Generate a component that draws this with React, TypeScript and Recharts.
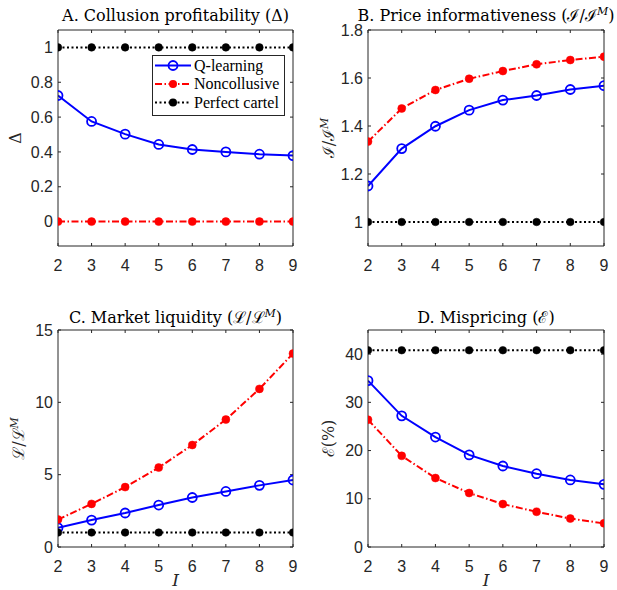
import React from 'react';
import { LineChart, Line, XAxis, YAxis, Legend } from 'recharts';

// ---------- data ----------
const categories = [2, 3, 4, 5, 6, 7, 8, 9];

const qLearningA = [0.724, 0.575, 0.502, 0.443, 0.414, 0.4, 0.387, 0.379];
const noncollusiveA = [0, 0, 0, 0, 0, 0, 0, 0];
const perfectCartelA = [1, 1, 1, 1, 1, 1, 1, 1];

const qLearningB = [1.15, 1.306, 1.399, 1.466, 1.508, 1.527, 1.552, 1.568];
const noncollusiveB = [1.335, 1.473, 1.55, 1.597, 1.629, 1.657, 1.675, 1.689];
const perfectCartelB = [1, 1, 1, 1, 1, 1, 1, 1];

const qLearningC = [1.33, 1.86, 2.35, 2.9, 3.42, 3.84, 4.26, 4.63];
const noncollusiveC = [1.9, 2.98, 4.14, 5.49, 7.05, 8.81, 10.93, 13.37];
const perfectCartelC = [1, 1, 1, 1, 1, 1, 1, 1];

const qLearningD = [34.5, 27.2, 22.8, 19.1, 16.8, 15.2, 13.9, 13.0];
const noncollusiveD = [26.4, 18.9, 14.3, 11.2, 8.9, 7.3, 5.9, 4.9];
const perfectCartelD = [40.8, 40.8, 40.8, 40.8, 40.8, 40.8, 40.8, 40.8];

const ticksA = [0, 0.2, 0.4, 0.6, 0.8, 1];
const ticksB = [1, 1.2, 1.4, 1.6, 1.8];
const ticksC = [0, 5, 10, 15];
const ticksD = [0, 10, 20, 30, 40];

const seriesNames = ['Q-learning', 'Noncollusive', 'Perfect cartel'];

function buildRows(q: number[], n: number[], p: number[]) {
  return categories.map((I, i) => ({ I, q: q[i], n: n[i], p: p[i] }));
}

// ---------- styles ----------
const AXIS = '#262626';
const BLUE = '#0000FF';
const RED = '#FF0000';
const BLACK = '#000000';
const SERIF = "'DejaVu Serif', 'Liberation Serif', 'Times New Roman', serif";
const LEG_SERIF = "'Liberation Serif', 'Times New Roman', 'DejaVu Serif', serif";
const SANS = "'Liberation Sans', Arial, Helvetica, sans-serif";
const tickStyle = { fill: AXIS, fontSize: 16, style: { fontFamily: SANS } };
const DASHDOT = '7 2.5 1.5 2.5';
const DOTTED = '2 2.5';

function LegendBox() {
  const rows = [
    { name: seriesNames[0], color: BLUE, dash: undefined as string | undefined, open: true },
    { name: seriesNames[1], color: RED, dash: DASHDOT, open: false },
    { name: seriesNames[2], color: BLACK, dash: DOTTED, open: false },
  ];
  return (
    <svg width={134} height={62} style={{ display: 'block' }}>
      <rect x={0.5} y={0.5} width={132} height={60} fill="#fff" stroke={AXIS} strokeWidth={1} />
      {rows.map((r, i) => {
        const ly = 10.5 + i * 18.5;
        return (
          <g key={r.name}>
            <line x1={3} x2={39} y1={ly} y2={ly} stroke={r.color} strokeWidth={2} strokeDasharray={r.dash} />
            {r.open ? (
              <circle cx={21} cy={ly} r={4.5} fill="none" stroke={r.color} strokeWidth={1.8} />
            ) : (
              <circle cx={21} cy={ly} r={4} fill={r.color} />
            )}
            <text x={42} y={ly + 5.3} style={{ fontFamily: LEG_SERIF, fontSize: 16 }} fill={BLACK}>
              {r.name}
            </text>
          </g>
        );
      })}
    </svg>
  );
}

type PanelProps = {
  left: number;
  top: number;
  width: number;
  height: number;
  margin: { top: number; right: number; bottom: number; left: number };
  data: any[];
  yDomain: [number, number];
  yTicks: number[];
  title: React.ReactNode;
  titleY: number;
  yLabel: React.ReactNode;
  yLabelOffset: number;
  showXLabel: boolean;
  showLegend?: boolean;
};

function Panel(p: PanelProps) {
  const titleContent = (props: any) => {
    const vb = props.viewBox || {};
    const cx = vb.x + vb.width / 2;
    return (
      <text x={cx} y={p.titleY} textAnchor="middle" style={{ fontFamily: SERIF, fontSize: 16 }} fill={BLACK}>
        {p.title}
      </text>
    );
  };
  const yLabelContent = (props: any) => {
    const vb = props.viewBox || {};
    const cx = vb.x + vb.width - p.yLabelOffset;
    const cy = vb.y + vb.height / 2;
    return (
      <text
        x={cx}
        y={cy}
        dy="0.35em"
        textAnchor="middle"
        transform={`rotate(-90 ${cx} ${cy})`}
        style={{ fontFamily: SERIF, fontSize: 16 }}
        fill={AXIS}
      >
        {p.yLabel}
      </text>
    );
  };
  const xLabelContent = (props: any) => {
    const vb = props.viewBox || {};
    const cx = vb.x + vb.width / 2;
    return (
      <text
        x={cx}
        y={vb.y + 39}
        textAnchor="middle"
        style={{ fontFamily: SERIF, fontStyle: 'italic', fontSize: 17 }}
        fill={AXIS}
      >
        I
      </text>
    );
  };
  const noTick = () => null;

  return (
    <div style={{ position: 'absolute', left: p.left, top: p.top, width: p.width, height: p.height }}>
      <LineChart width={p.width} height={p.height} data={p.data} margin={p.margin}>
        <XAxis
          xAxisId="b"
          type="number"
          dataKey="I"
          domain={[2, 9]}
          ticks={categories}
          allowDataOverflow
          height={1}
          stroke={AXIS}
          tickSize={-3}
          tickMargin={17}
          tick={tickStyle}
          label={p.showXLabel ? { content: xLabelContent } : undefined}
        />
        <XAxis
          xAxisId="t"
          orientation="top"
          type="number"
          dataKey="I"
          domain={[2, 9]}
          ticks={categories}
          allowDataOverflow
          height={1}
          stroke={AXIS}
          tickSize={-3}
          tick={noTick}
          label={{ content: titleContent }}
        />
        <YAxis
          yAxisId="l"
          type="number"
          domain={p.yDomain}
          ticks={p.yTicks}
          allowDataOverflow
          width={1}
          stroke={AXIS}
          tickSize={-3}
          tickMargin={8}
          tick={tickStyle}
          label={{ content: yLabelContent }}
        />
        <YAxis
          yAxisId="r"
          orientation="right"
          type="number"
          domain={p.yDomain}
          ticks={p.yTicks}
          allowDataOverflow
          width={1}
          stroke={AXIS}
          tickSize={-3}
          tick={noTick}
        />
        <Line
          xAxisId="b"
          yAxisId="l"
          type="linear"
          dataKey="q"
          name={seriesNames[0]}
          stroke={BLUE}
          strokeWidth={2}
          dot={{ r: 4.5, fill: 'none', stroke: BLUE, strokeWidth: 1.8 }}
          activeDot={false}
          isAnimationActive={false}
        />
        <Line
          xAxisId="b"
          yAxisId="l"
          type="linear"
          dataKey="n"
          name={seriesNames[1]}
          stroke={RED}
          strokeWidth={2}
          strokeDasharray={DASHDOT}
          dot={{ r: 4, fill: RED, stroke: RED, strokeWidth: 0.5, strokeDasharray: 'none' }}
          activeDot={false}
          isAnimationActive={false}
        />
        <Line
          xAxisId="b"
          yAxisId="l"
          type="linear"
          dataKey="p"
          name={seriesNames[2]}
          stroke={BLACK}
          strokeWidth={2}
          strokeDasharray={DOTTED}
          dot={{ r: 3.8, fill: BLACK, stroke: BLACK, strokeWidth: 0.5, strokeDasharray: 'none' }}
          activeDot={false}
          isAnimationActive={false}
        />
        {p.showLegend ? (
          <Legend
            layout="vertical"
            align="center"
            verticalAlign="middle"
            content={() => <LegendBox />}
            wrapperStyle={{ left: 152, top: 55, width: 134, height: 62, right: 'auto', bottom: 'auto' }}
          />
        ) : null}
      </LineChart>
    </div>
  );
}

const sup = (ch: string) => (
  <tspan baselineShift="super" style={{ fontSize: 11, fontStyle: 'italic' }}>
    {ch}
  </tspan>
);

export default function App() {
  const topMargin = { top: 29, right: 16, bottom: 43, left: 57 };
  const topMarginR = { top: 29, right: 12, bottom: 43, left: 57 };
  const botMargin = { top: 39, right: 16, bottom: 42, left: 57 };
  const botMarginR = { top: 39, right: 12, bottom: 42, left: 57 };
  return (
    <div style={{ position: 'absolute', left: 0, top: 0, width: 617, height: 590, background: '#fff' }}>
      <Panel
        left={0}
        top={0}
        width={310}
        height={290}
        margin={topMargin}
        data={buildRows(qLearningA, noncollusiveA, perfectCartelA)}
        yDomain={[-0.14, 1.1]}
        yTicks={ticksA}
        title={<>A. Collusion profitability (Δ)</>}
        titleY={20.7}
        yLabel={<>Δ</>}
        yLabelOffset={43}
        showXLabel={false}
        showLegend
      />
      <Panel
        left={310}
        top={0}
        width={307}
        height={290}
        margin={topMarginR}
        data={buildRows(qLearningB, noncollusiveB, perfectCartelB)}
        yDomain={[0.9, 1.8]}
        yTicks={ticksB}
        title={<>B. Price informativeness (ℐ/ℐ{sup('M')})</>}
        titleY={20.7}
        yLabel={<>ℐ/ℐ{sup('M')}</>}
        yLabelOffset={40}
        showXLabel={false}
      />
      <Panel
        left={0}
        top={290}
        width={310}
        height={300}
        margin={botMargin}
        data={buildRows(qLearningC, noncollusiveC, perfectCartelC)}
        yDomain={[0, 15]}
        yTicks={ticksC}
        title={<>C. Market liquidity (ℒ/ℒ{sup('M')})</>}
        titleY={33.3}
        yLabel={<>ℒ/ℒ{sup('M')}</>}
        yLabelOffset={40}
        showXLabel
      />
      <Panel
        left={310}
        top={290}
        width={307}
        height={300}
        margin={botMarginR}
        data={buildRows(qLearningD, noncollusiveD, perfectCartelD)}
        yDomain={[0, 45]}
        yTicks={ticksD}
        title={<>D. Mispricing (ℰ)</>}
        titleY={33.3}
        yLabel={<>ℰ(%)</>}
        yLabelOffset={40}
        showXLabel
      />
    </div>
  );
}
